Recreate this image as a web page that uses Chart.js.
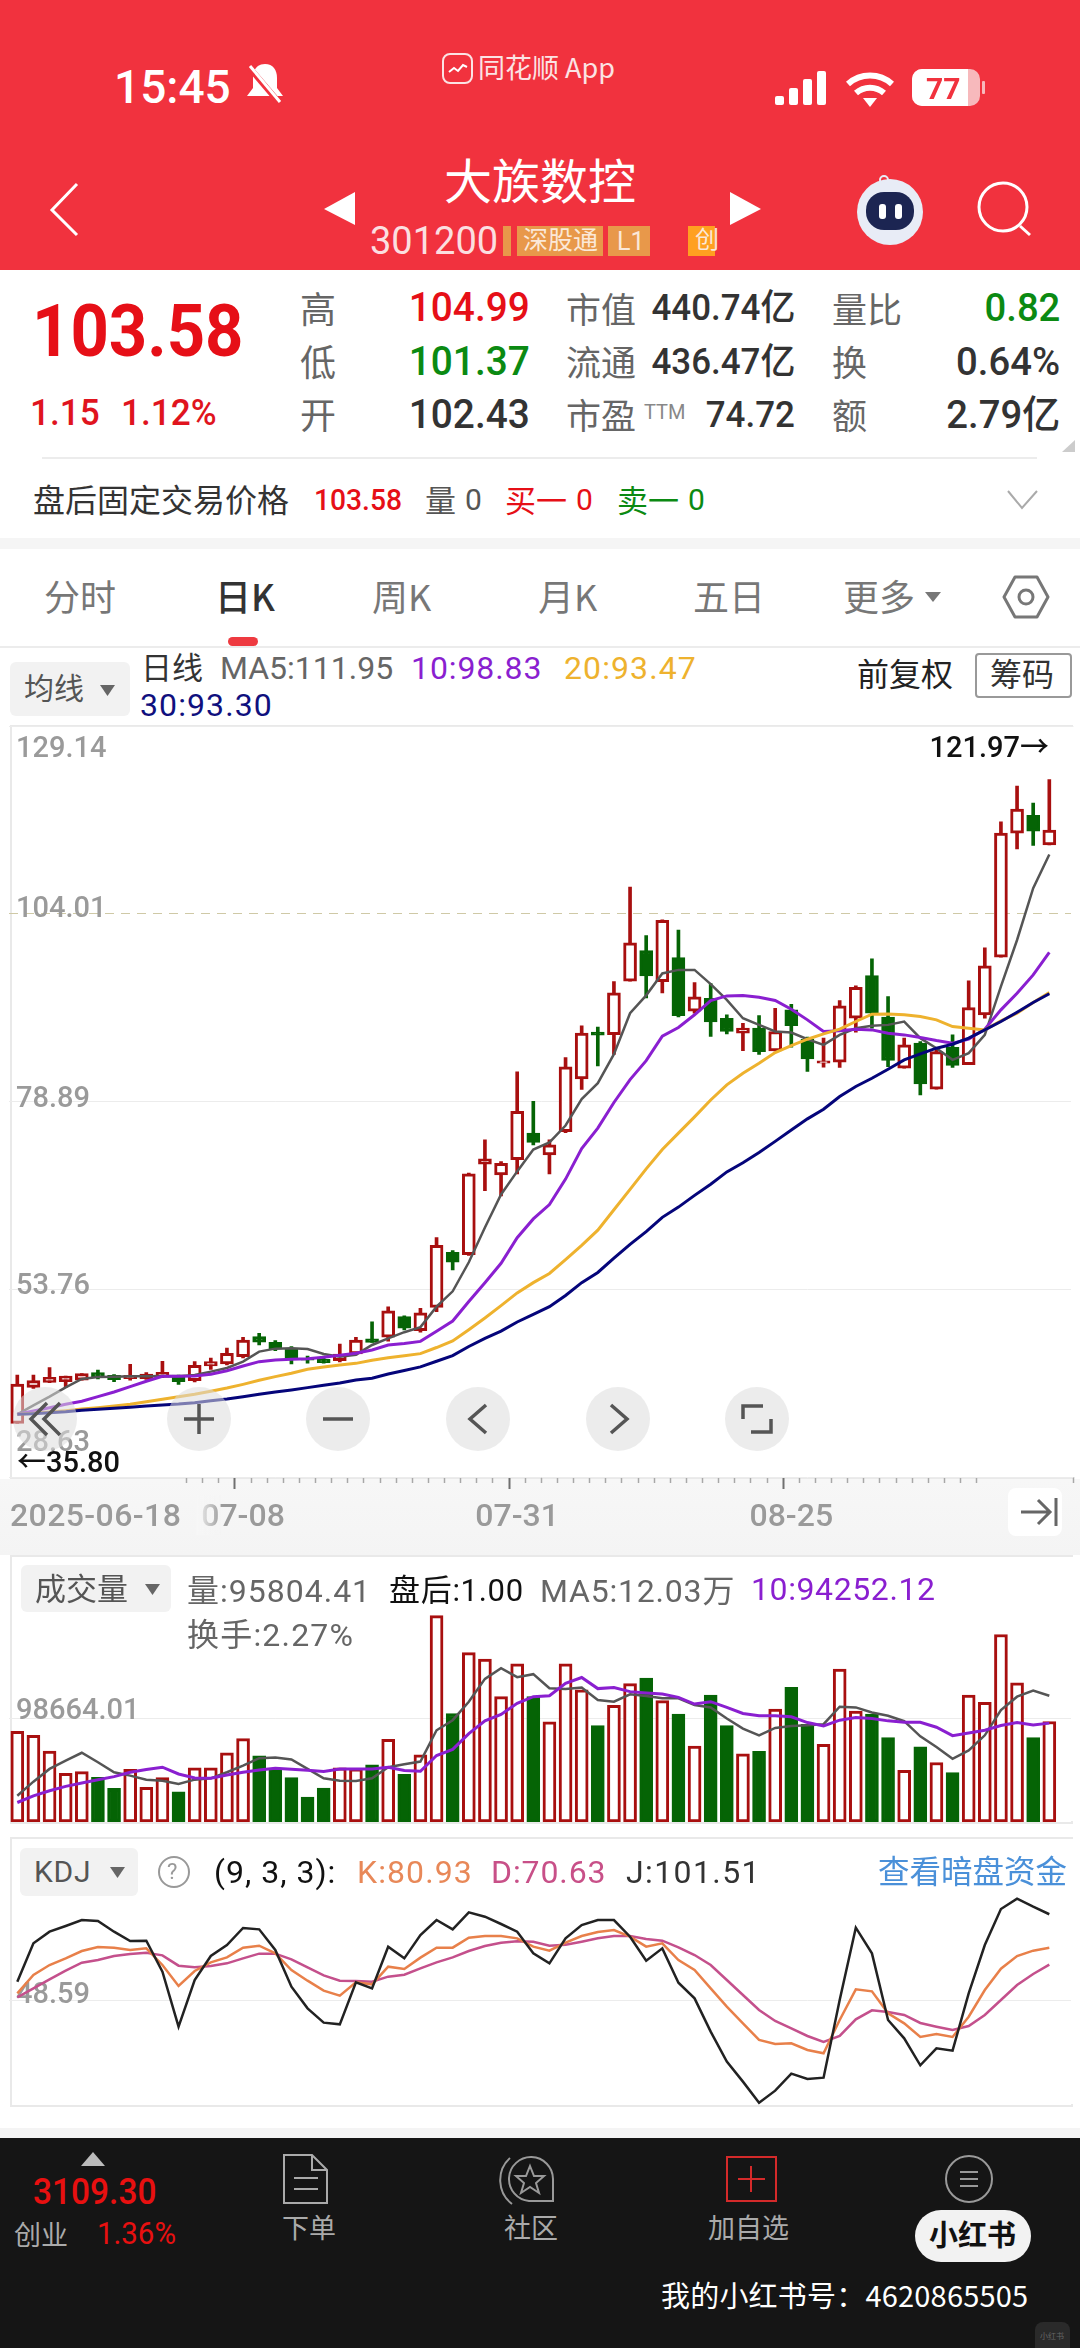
<!DOCTYPE html>
<html>
<head>
<meta charset="utf-8">
<title>大族数控 日K</title>
<script src="https://cdn.jsdelivr.net/npm/chart.js@4"></script>
<style>
html, body { margin: 0; padding: 0; background: #fff; }
#page { position: relative; width: 1080px; height: 2348px; overflow: hidden; background: #fff;
  font-family: Roboto, "Noto Sans CJK SC", sans-serif; }
.t { position: absolute; white-space: nowrap; line-height: 1; transform: translateY(-50%) scaleX(var(--sx, 1)); transform-origin: left center; }
.r { transform-origin: right center; }
.c { font-family: "Noto Sans CJK SC"; margin-top: -3px; }
.s { font-family: "Noto Sans CJK SC"; }
.b { position: absolute; }
canvas { position: absolute; left: 0; display: block; }
svg { position: absolute; left: 0; top: 0; pointer-events: none; }
.frame { position: absolute; left: 10px; width: 1059px; border: 2px solid #e9e9e9; box-sizing: content-box; }
.pick { position: absolute; background: #f2f2f2; border-radius: 6px; }
</style>
</head>
<body>
<div id="page">
  <!-- top bar -->
  <div class="b" style="left:0;top:0;width:1080px;height:270px;background:#f1323e"></div>
  <div class="t" style="left:114px;top:87px;font-size:46px;font-weight:500;color:#fff">15:45</div>
  <div class="t c" style="left:478px;top:69px;font-size:27px;color:#fbe3e4">同花顺 App</div>
  <div class="t c" style="left:444px;top:181px;font-size:48px;color:#fff">大族数控</div>
  <div class="t" style="left:370px;top:241px;font-size:38px;color:#fbdfe0">301200</div>
  <div class="b" style="left:503px;top:226px;width:8px;height:30px;background:#e8984a"></div>
  <div class="b" style="left:517px;top:226px;width:86px;height:30px;background:#e8984a"></div>
  <div class="t c" style="left:523px;top:241px;font-size:25px;color:#fbe8d8">深股通</div>
  <div class="b" style="left:608px;top:226px;width:42px;height:30px;background:#e8984a"></div>
  <div class="t" style="left:617px;top:241px;font-size:25px;color:#fbe8d8">L1</div>
  <div class="b" style="left:688px;top:226px;width:27px;height:30px;background:#ffa020"></div>
  <div class="t c" style="left:695px;top:241px;font-size:24px;color:#fbe8d8">创</div>

  <!-- quote block -->
  <div class="t" style="left:32px;top:332px;font-size:72px;font-weight:700;color:#e60f17;--sx:.93">103.58</div>
  <div class="t" style="left:30px;top:412px;font-size:37px;font-weight:500;color:#e0141e;--sx:.95">1.15</div>
  <div class="t" style="left:121px;top:412px;font-size:37px;font-weight:500;color:#e0141e;--sx:.95">1.12%</div>

  <div class="t c" style="left:300px;top:310px;font-size:36px;color:#666">高</div>
  <div class="t c" style="left:300px;top:363px;font-size:36px;color:#666">低</div>
  <div class="t c" style="left:300px;top:416px;font-size:36px;color:#666">开</div>
  <div class="t r" style="right:550px;top:308px;font-size:40px;font-weight:500;color:#e60f17;--sx:.97">104.99</div>
  <div class="t r" style="right:550px;top:362px;font-size:40px;font-weight:500;color:#0b8a12;--sx:.97">101.37</div>
  <div class="t r" style="right:550px;top:415px;font-size:40px;font-weight:500;color:#333;--sx:.97">102.43</div>

  <div class="t c" style="left:566px;top:310px;font-size:35px;color:#666">市值</div>
  <div class="t c" style="left:566px;top:363px;font-size:35px;color:#666">流通</div>
  <div class="t c" style="left:566px;top:416px;font-size:35px;color:#666">市盈</div>
  <div class="t" style="left:644px;top:412px;font-size:20px;color:#888">TTM</div>
  <div class="t r" style="right:285px;top:308px;font-size:36px;font-weight:500;color:#333;--sx:.97">440.74亿</div>
  <div class="t r" style="right:285px;top:362px;font-size:36px;font-weight:500;color:#333;--sx:.97">436.47亿</div>
  <div class="t r" style="right:285px;top:415px;font-size:36px;font-weight:500;color:#333;--sx:.97">74.72</div>

  <div class="t c" style="left:832px;top:310px;font-size:35px;color:#666">量比</div>
  <div class="t c" style="left:832px;top:363px;font-size:35px;color:#666">换</div>
  <div class="t c" style="left:832px;top:416px;font-size:35px;color:#666">额</div>
  <div class="t r" style="right:20px;top:308px;font-size:39px;font-weight:500;color:#0b8a12;--sx:.98">0.82</div>
  <div class="t r" style="right:20px;top:362px;font-size:39px;font-weight:500;color:#333;--sx:.98">0.64%</div>
  <div class="t r" style="right:20px;top:415px;font-size:39px;font-weight:500;color:#333;--sx:.98">2.79亿</div>
  <div class="b" style="left:42px;top:457px;width:995px;height:2px;background:#ececec"></div>

  <div class="t c" style="left:33px;top:501px;font-size:32px;color:#333">盘后固定交易价格</div>
  <div class="t" style="left:314px;top:500px;font-size:30px;font-weight:500;color:#e60f17;--sx:.94">103.58</div>
  <div class="t c" style="left:425px;top:501px;font-size:31px;color:#555">量</div>
  <div class="t" style="left:465px;top:500px;font-size:30px;color:#555">0</div>
  <div class="t c" style="left:505px;top:501px;font-size:31px;color:#e60f17">买一</div>
  <div class="t" style="left:576px;top:500px;font-size:30px;color:#e60f17">0</div>
  <div class="t c" style="left:617px;top:501px;font-size:31px;color:#0b8a12">卖一</div>
  <div class="t" style="left:688px;top:500px;font-size:30px;color:#0b8a12">0</div>
  <div class="b" style="left:0;top:538px;width:1080px;height:11px;background:#f5f5f5"></div>

  <!-- period tabs -->
  <div class="t c" style="left:44px;top:598px;font-size:36px;color:#777">分时</div>
  <div class="t c" style="left:215px;top:598px;font-size:36px;font-weight:500;color:#333">日K</div>
  <div class="t c" style="left:372px;top:598px;font-size:36px;color:#777">周K</div>
  <div class="t c" style="left:538px;top:598px;font-size:36px;color:#777">月K</div>
  <div class="t c" style="left:693px;top:598px;font-size:36px;color:#777">五日</div>
  <div class="t c" style="left:843px;top:598px;font-size:36px;color:#777">更多</div>
  <div class="b" style="left:228px;top:637px;width:30px;height:9px;background:#ee3a40;border-radius:5px"></div>
  <div class="b" style="left:0;top:646px;width:1080px;height:2px;background:#ececec"></div>

  <!-- MA legend -->
  <div class="pick" style="left:10px;top:662px;width:120px;height:54px"></div>
  <div class="t c" style="left:24px;top:689px;font-size:30px;color:#555">均线</div>
  <div class="t c" style="left:141px;top:668px;font-size:31px;color:#333">日线</div>
  <div class="t" style="left:220px;top:668px;font-size:32px;color:#666">MA5:111.95</div>
  <div class="t" style="left:411px;top:668px;font-size:32px;color:#8a1fd0;letter-spacing:.9px">10:98.83</div>
  <div class="t" style="left:564px;top:668px;font-size:32px;color:#eeb22e;letter-spacing:1.100px">20:93.47</div>
  <div class="t" style="left:140px;top:705px;font-size:32px;color:#10107e;letter-spacing:1.100px">30:93.30</div>
  <div class="t c" style="left:857px;top:675px;font-size:32px;color:#222">前复权</div>
  <div class="b" style="left:975px;top:653px;width:93px;height:41px;border:2px solid #999;border-radius:4px"></div>
  <div class="t c" style="left:990px;top:675px;font-size:32px;color:#333">筹码</div>

  <!-- panels behind the canvases -->
  <div class="frame" style="top:725px;height:751px"></div>
  <div class="b" style="left:0;top:1479px;width:1080px;height:76px;background:linear-gradient(#f7f7f7,#f4f4f4)"></div>
  <div class="frame" style="top:1555px;height:265px"></div>
  <div class="frame" style="top:1837px;height:266px"></div>

  <canvas id="priceChart" width="1080" height="814" style="top:726px"></canvas>
  <canvas id="volumeChart" width="1080" height="266" style="top:1556px"></canvas>
  <canvas id="kdjChart" width="1080" height="267" style="top:1838px"></canvas>

  <!-- the scales run a little past the frame, keep the margin clean -->
  <div class="b" style="left:1071px;top:727px;width:9px;height:750px;background:#fff"></div>
  <div class="b" style="left:1071px;top:1557px;width:9px;height:264px;background:#fff"></div>
  <div class="b" style="left:1071px;top:1839px;width:9px;height:265px;background:#fff"></div>

  <!-- chart notes -->
  <div class="t r" style="right:31px;top:747px;font-size:29px;font-weight:500;color:#111">121.97→</div>
  <div class="t" style="left:17px;top:1462px;font-size:29px;font-weight:500;color:#111">←35.80</div>
  <div class="b" style="left:196px;top:1495px;width:26px;height:40px;background:linear-gradient(90deg,#f6f6f6,rgba(246,246,246,0))"></div>
  <div class="t" style="left:10px;top:1515px;font-size:32px;font-weight:500;color:#9a9a9a;letter-spacing:.4px">2025-06-18</div>
  <div class="b" style="left:1008px;top:1488px;width:54px;height:48px;background:#fff;border-radius:8px"></div>

  <!-- volume header -->
  <div class="pick" style="left:21px;top:1565px;width:150px;height:47px"></div>
  <div class="t c" style="left:35px;top:1589px;font-size:31px;color:#555">成交量</div>
  <div class="t" style="left:187px;top:1589px;font-size:32px;color:#666;letter-spacing:1px"><span class="s">量</span>:95804.41</div>
  <div class="t" style="left:389px;top:1589px;font-size:31px;color:#111;letter-spacing:.7px"><span class="s">盘后</span>:1.00</div>
  <div class="t" style="left:540px;top:1589px;font-size:32px;color:#666;letter-spacing:.8px">MA5:12.03<span class="s">万</span></div>
  <div class="t" style="left:751px;top:1589px;font-size:32px;color:#8a1fd0;letter-spacing:.6px">10:94252.12</div>
  <div class="t" style="left:187px;top:1633px;font-size:32px;color:#666;letter-spacing:1.200px"><span class="s">换手</span>:2.27%</div>

  <!-- KDJ header -->
  <div class="pick" style="left:20px;top:1848px;width:118px;height:48px"></div>
  <div class="t" style="left:34px;top:1872px;font-size:30px;color:#555;letter-spacing:.8px">KDJ</div>
  <div class="t" style="left:167px;top:1872px;font-size:22px;color:#999">?</div>
  <div class="t" style="left:214px;top:1872px;font-size:32px;color:#111;letter-spacing:1px">(9, 3, 3):</div>
  <div class="t" style="left:357px;top:1872px;font-size:32px;color:#e88858;letter-spacing:1.100px">K:80.93</div>
  <div class="t" style="left:491px;top:1872px;font-size:32px;color:#c85088;letter-spacing:.9px">D:70.63</div>
  <div class="t" style="left:626px;top:1872px;font-size:32px;color:#333;letter-spacing:1.400px">J:101.51</div>
  <div class="t c" style="left:878px;top:1873px;font-size:31.500px;color:#4a90d9">查看暗盘资金</div>

  <!-- footer -->
  <div class="b" style="left:0;top:2128px;width:1080px;height:10px;background:#f4f4f4"></div>
  <div class="b" style="left:0;top:2138px;width:1080px;height:210px;background:#151515"></div>
  <div class="t" style="left:33px;top:2192px;font-size:36px;font-weight:500;color:#e81010;--sx:.93">3109.30</div>
  <div class="t c" style="left:14px;top:2236px;font-size:27px;color:#aaa">创业</div>
  <div class="t" style="left:97px;top:2233px;font-size:32px;color:#e81010;--sx:.92">1.36%</div>
  <div class="t c" style="left:282px;top:2229px;font-size:27px;color:#aaa">下单</div>
  <div class="t c" style="left:504px;top:2229px;font-size:27px;color:#aaa">社区</div>
  <div class="t c" style="left:708px;top:2229px;font-size:27px;color:#aaa">加自选</div>
  <div class="b" style="left:915px;top:2210px;width:116px;height:52px;background:#f2f2f2;border-radius:26px"></div>
  <div class="t c" style="left:929px;top:2236px;font-size:29px;font-weight:700;color:#111">小红书</div>
  <div class="t c" style="left:661px;top:2297px;font-size:29px;color:#fff;letter-spacing:.2px">我的小红书号：4620865505</div>
  <div class="b" style="left:1035px;top:2322px;width:35px;height:34px;background:#2a2a2a;border-radius:8px"></div>
  <div class="t c" style="left:1040px;top:2339px;font-size:8px;color:#666">小红书</div>

  <!-- icons and chart buttons -->
  <svg width="1080" height="2348" fill="none">
    <!-- status bar -->
    <path d="M265 64 c-8 0 -12 6 -12 14 v10 l-6 8 h36 l-6 -8 v-10 c0 -8 -4 -14 -12 -14z" fill="#fff"/>
    <path d="M248 66 L282 106" stroke="#f1323e" stroke-width="6"/><path d="M250 66 L280 102" stroke="#fff" stroke-width="3"/>
    <rect x="443" y="54" width="29" height="29" rx="7" fill="#f1323e" stroke="#fbe3e4" stroke-width="2"/>
    <path d="M449 72 l5 -4 4 3 5 -6 4 2" stroke="#fff" stroke-width="2"/>
    <rect x="775" y="96" width="9" height="9" rx="2" fill="#fff"/><rect x="789" y="88" width="9" height="17" rx="2" fill="#fff"/>
    <rect x="803" y="79" width="9" height="26" rx="2" fill="#fff"/><rect x="817" y="71" width="9" height="34" rx="2" fill="#fff"/>
    <path d="M848 84 a33 33 0 0 1 44 0 M856 93 a21 21 0 0 1 28 0" stroke="#fff" stroke-width="6"/><path d="M863 98 h14 l-7 9z" fill="#fff"/>
    <rect x="912" y="69" width="68" height="37" rx="10" fill="#f7b9bc"/><path d="M922 69 h46 v37 h-46 a10 10 0 0 1 -10 -10 v-17 a10 10 0 0 1 10 -10z" fill="#fff"/>
    <rect x="982" y="81" width="3" height="13" rx="1" fill="#f7b9bc"/>
    <text x="926" y="99" font-family="Roboto" font-weight="700" font-size="30" fill="#f1323e">77</text>
    <!-- header -->
    <path d="M77 184 L52 210 L77 235" stroke="#fff" stroke-width="3"/>
    <path d="M355 192 v33 l-31 -16z" fill="#fff"/><path d="M730 192 v33 l31 -16z" fill="#fff"/>
    <circle cx="890" cy="212" r="33" fill="#e8ecf6"/><rect x="866" y="192" width="48" height="38" rx="18" fill="#1c2552"/>
    <rect x="879" y="204" width="7" height="15" rx="3" fill="#fff"/><rect x="895" y="204" width="7" height="15" rx="3" fill="#fff"/>
    <circle cx="884" cy="180" r="4" stroke="#e8ecf6" stroke-width="2"/>
    <circle cx="1003" cy="207" r="24" stroke="#fff" stroke-width="3"/><path d="M1020 226 L1030 235" stroke="#fff" stroke-width="3"/>
    <path d="M1062 452 L1075 440 V452z" fill="#ccc"/>
    <path d="M1008 491 L1022 508 L1037 491" stroke="#aaa" stroke-width="2"/>
    <path d="M925 592 h16 l-8 10z" fill="#777"/>
    <path d="M1004 597 L1015 577 H1037 L1048 597 L1037 617 H1015z" stroke="#777" stroke-width="3" stroke-linejoin="round"/>
    <circle cx="1026" cy="597" r="7" stroke="#777" stroke-width="3"/>
    <path d="M100 685 h15 l-7.500 11z" fill="#666"/>
    <path d="M145 1584 h15 l-7.500 11z" fill="#666"/>
    <path d="M110 1867 h15 l-7.500 11z" fill="#666"/>
    <circle cx="174" cy="1872" r="15" stroke="#999" stroke-width="2"/>
    <!-- chart buttons -->
    <g fill="#dcdcdc" fill-opacity=".55">
      <circle cx="45" cy="1419" r="32"/><circle cx="199" cy="1419" r="32"/><circle cx="338" cy="1419" r="32"/>
      <circle cx="478" cy="1419" r="32"/><circle cx="618" cy="1419" r="32"/><circle cx="757" cy="1419" r="32"/>
    </g>
    <g stroke="#555" stroke-width="3.500">
      <path d="M47 1403 L31 1419 L47 1435 M60 1403 L44 1419 L60 1435"/>
      <path d="M184 1419 H214 M199 1404 V1434"/><path d="M323 1419 H353"/>
      <path d="M486 1405 L470 1419 L486 1433"/><path d="M611 1405 L627 1419 L611 1433"/>
      <path d="M743 1419 V1406 H763 M771 1419 V1432 H751"/>
    </g>
    <path d="M1021 1512 H1050 M1038 1500 L1050 1512 L1038 1524 M1056 1498 V1526" stroke="#666" stroke-width="3"/>
    <!-- footer -->
    <path d="M93 2152 L105 2166 H81z" fill="#bbb"/>
    <path d="M284 2155 h28 l15 15 v33 h-43z" stroke="#aaa" stroke-width="2"/>
    <path d="M294 2178 h24 M294 2189 h24 M312 2155 v15 h15" stroke="#aaa" stroke-width="2"/>
    <path d="M553 2201 h-24 a22 22 0 1 1 24 -22z M510 2158 a30 30 0 0 0 2 46" stroke="#999" stroke-width="2"/>
    <path d="M530 2166 l4 10 h10 l-8 7 3 10 -9 -6 -9 6 3 -10 -8 -7 h10z" stroke="#999" stroke-width="2"/>
    <rect x="727" y="2157" width="49" height="44" stroke="#d42a2a" stroke-width="2"/>
    <path d="M738 2179 h27 M751 2166 v26" stroke="#d42a2a" stroke-width="2"/>
    <circle cx="969" cy="2179" r="23" stroke="#999" stroke-width="2"/>
    <path d="M960 2172 h18 M960 2179 h18 M960 2186 h18" stroke="#999" stroke-width="2"/>
  </svg>
</div>

<script>
// one value per trading day
var dates = ["06-18","06-19","06-20","06-23","06-24","06-25","06-26","06-27","06-30","07-01","07-02","07-03","07-04","07-07","07-08",
  "07-09","07-10","07-11","07-14","07-15","07-16","07-17","07-18","07-21","07-22","07-23","07-24","07-25","07-28","07-29","07-30","07-31",
  "08-01","08-04","08-05","08-06","08-07","08-08","08-11","08-12","08-13","08-14","08-15","08-18","08-19","08-20","08-21","08-22","08-25",
  "08-26","08-27","08-28","08-29","09-01","09-02","09-03","09-04","09-05","09-08","09-09","09-10","09-11","09-12","09-15","09-16"];
var tickDates = ["07-08","07-31","08-25"];
var priceTicks = [28.63, 53.76, 78.89, 104.01, 129.14];
var volumeTicks = [98664.01];
var kdjTicks = [48.59];

var opens = [35.80,40.63,41.30,41.39,41.60,42.60,42.24,41.80,41.80,42.00,42.28,41.52,43.49,43.76,44.74,47.41,46.66,45.72,44.51,44.38,44.20,45.10,
  47.12,47.33,50.10,48.20,51.34,58.70,58.39,70.50,69.06,71.10,74.65,71.73,74.85,81.90,88.17,87.83,95.00,99.10,94.93,98.14,90.97,92.68,
  90.03,88.02,88.70,85.66,91.15,87.22,84.01,84.14,90.03,95.74,90.17,83.34,86.69,80.53,86.15,83.83,90.48,98.21,114.81,117.20,113.24];
var closes = [41.08,41.52,41.97,42.15,42.46,41.93,41.66,42.24,42.42,42.64,41.39,43.58,44.07,45.18,46.97,46.66,45.76,44.51,44.25,43.93,45.09,46.97,
  46.65,50.88,48.55,50.60,59.64,57.37,69.19,71.20,70.62,77.58,73.42,73.07,83.53,88.03,87.76,93.43,100.12,95.70,103.13,90.36,92.88,89.54,
  88.25,88.70,85.57,88.25,89.05,84.59,84.32,91.70,94.18,90.70,84.37,86.46,81.24,85.57,83.70,91.46,97.04,114.81,118.02,115.08,115.22];
var highs = [42.28,42.28,43.26,42.15,42.46,42.95,42.33,43.70,42.60,44.10,42.28,44.07,44.56,45.90,47.33,47.86,46.88,46.08,44.80,44.80,46.43,47.33,
  49.40,51.40,50.20,51.20,60.67,58.93,69.30,73.74,70.84,82.84,78.90,73.74,84.75,89.00,88.85,94.93,107.57,101.08,103.20,101.83,94.80,94.66,
  90.48,89.36,90.39,91.37,91.90,87.49,87.36,92.40,94.36,97.98,92.93,87.36,86.91,85.79,87.80,95.03,99.44,116.30,121.09,118.84,121.97];
var lows = [35.80,40.50,41.26,40.63,41.60,41.75,41.39,41.60,41.70,41.93,41.03,41.35,43.04,43.62,44.56,46.30,45.54,43.76,43.85,43.85,44.02,44.96,
  46.65,46.80,48.30,48.00,50.76,56.34,58.30,66.96,66.25,69.20,73.07,69.19,74.70,80.50,83.66,85.20,95.00,92.75,93.43,90.20,90.70,87.60,
  87.94,85.70,85.20,85.66,86.15,82.90,83.47,83.43,88.16,88.70,83.56,83.34,79.77,80.53,83.43,83.83,90.03,98.20,112.69,113.17,113.24];

var ma5 = [37.02,38.22,39.38,40.63,41.75,42.02,42.06,42.10,42.10,42.15,42.10,42.28,42.73,43.22,44.07,45.41,45.81,45.85,45.76,45.09,44.74,45.00,
  46.30,47.19,48.01,48.69,51.42,53.48,57.37,62.01,66.45,69.53,72.46,73.42,75.67,79.22,81.34,85.23,90.70,93.09,96.02,96.50,96.50,94.59,
  92.49,90.03,89.14,88.25,88.12,87.22,86.46,87.80,88.69,89.01,89.14,89.59,87.36,86.02,84.46,85.35,87.80,94.30,100.50,107.43,111.95];
var ma10 = [37.02,37.46,37.91,38.36,38.76,39.38,40.01,40.72,41.44,42.10,42.10,42.15,42.37,42.86,43.49,44.07,44.29,44.38,44.47,44.65,44.92,45.18,
  45.62,46.30,46.51,46.78,48.15,49.51,52.11,54.64,57.23,60.65,63.17,65.09,68.50,72.60,75.33,78.75,81.82,84.35,87.62,88.79,90.49,92.40,
  93.02,93.07,92.84,92.40,91.24,89.81,88.25,88.34,88.56,88.47,88.03,87.80,87.45,87.04,86.69,87.22,88.56,91.15,93.38,95.83,98.83];
var ma20 = [37.02,37.15,37.33,37.51,37.73,37.91,38.13,38.36,38.71,39.03,39.38,39.70,40.10,40.54,41.03,41.57,42.06,42.51,43.04,43.35,43.62,43.84,
  44.25,44.60,44.87,45.14,45.96,46.85,48.35,49.92,51.56,53.27,54.64,55.87,57.71,59.62,61.67,64.40,67.13,69.87,72.46,74.65,76.83,79.09,
  81.11,82.67,84.01,85.44,86.37,87.22,87.94,88.56,89.59,90.57,90.61,90.48,90.26,89.81,88.92,88.70,88.47,89.68,90.70,92.13,93.47];
var ma30 = [37.02,37.11,37.24,37.37,37.55,37.69,37.82,37.96,38.13,38.27,38.40,38.58,38.85,39.07,39.38,39.70,40.01,40.28,40.59,40.90,41.21,41.61,
  41.86,42.41,42.89,43.37,44.12,44.87,46.10,47.19,48.15,49.38,50.40,51.42,52.93,54.64,56.00,57.91,59.76,61.47,63.38,64.75,66.32,67.82,
  69.46,70.69,72.05,73.55,75.06,76.56,77.85,79.55,80.89,82.00,83.21,84.46,85.26,86.02,86.55,87.36,88.47,89.59,90.84,92.13,93.30];

var volumes = [86480,82640,67580,46440,48050,42600,32030,50290,32990,42280,28830,51570,51570,65980,79430,63100,50930,42280,23700,32350,51570,50610,
  54450,78790,45480,64060,196660,103460,161430,155350,119470,150860,119470,95450,150860,125880,91930,111140,131960,137090,115630,102820,72390,121070,
  91930,65020,67260,107620,128440,93210,73990,145740,105700,102820,80400,49330,71750,56690,47080,121070,114030,178730,132600,80400,95804.41];
var volMa5 = [24980,38440,50610,58610,65980,57010,47400,44200,40360,39400,36190,40360,41640,47400,53810,60860,61500,59580,50610,41640,39400,39080,
  41640,52210,55090,57650,87440,97050,114670,136450,146700,138050,140930,127480,126840,128120,116270,114670,121710,120110,117870,117870,111460,109220,
  98650,89040,82640,89680,91610,92250,93210,109860,109220,104420,101210,96090,81680,71430,60220,68220,82640,106660,119470,125240,120300];
var volMa10 = [18580,24980,29790,33950,37150,40360,43240,47400,49970,52210,45800,41960,41640,44840,47400,49650,51250,50290,49330,48050,50610,50610,
  50610,52210,49010,48370,63420,69180,84240,96410,102500,113070,119470,120430,132280,137730,127160,128120,124280,123000,122030,118830,112430,114670,
  109220,103460,101210,101210,100250,94810,91610,97050,99610,98650,96410,95130,95130,90320,82320,84880,87440,91930,94810,92570,94252.12];

var kValues = [53.08,64.30,70.43,74.51,79.00,81.45,81.04,79.61,80.63,70.43,57.57,66.75,72.06,75.12,81.04,82.26,77.57,67.37,60.83,54.71,51.65,59.81,
  58.59,69.41,67.98,74.92,81.04,81.04,87.16,88.18,88.18,86.75,81.65,79.20,84.10,88.18,90.63,91.86,87.77,81.65,83.69,73.49,67.37,56.14,
  44.92,34.71,24.51,22.06,22.47,18.39,16.35,36.75,55.53,54.30,40.83,34.71,26.35,28.18,26.35,38.79,55.12,68.18,75.94,79.20,80.93];
var dValues = [50.63,56.14,61.65,66.96,71.86,73.49,75.94,77.16,77.98,76.35,70.02,69.00,69.81,71.45,74.51,77.37,77.37,73.90,69.00,64.10,60.83,60.63,
  60.22,63.28,64.51,68.39,72.06,75.12,79.00,82.06,84.10,84.92,84.71,82.26,82.88,84.71,86.75,88.18,88.18,86.35,85.32,81.24,76.55,70.43,
  61.24,52.06,42.88,36.14,31.65,26.96,23.28,26.96,37.16,42.67,41.65,39.81,34.92,32.67,30.63,33.08,39.81,49.00,58.18,64.92,70.63];
var jValues = [60.22,83.69,90.83,94.30,97.98,97.37,90.83,85.12,85.32,66.35,32.67,61.24,75.94,82.67,93.08,92.26,79.61,57.16,43.90,35.12,34.10,59.81,
  56.14,81.65,74.51,88.79,97.98,92.26,102.67,100.02,95.53,90.83,77.57,71.45,86.75,94.92,97.98,97.98,87.77,73.08,80.63,59.61,50.02,29.61,
  11.24,-1.00,-13.86,-6.51,3.90,0.63,1.45,49.00,93.28,77.57,36.75,25.53,9.00,19.41,17.98,53.08,82.67,104.71,111.04,106.14,101.51];

var RED = "#a80f0f", GREEN = "#056405", GREY = "#555555", PURPLE = "#8a1fd0", ORANGE = "#eeb22e", NAVY = "#05057a";
var labels = dates.concat([""]); // the app leaves one empty slot on the right
var plotPadding = { left: 9.24, right: 6.5 };

function isUp(i) { return closes[i] >= opens[i]; }
function candleColor(ctx) { return isUp(ctx.dataIndex) ? RED : GREEN; }
function candleFill(ctx) { return isUp(ctx.dataIndex) ? "#ffffff" : GREEN; }

function lineSet(data, color, width) {
  return { type: "line", data: data, borderColor: color, borderWidth: width || 2.5, pointRadius: 0, tension: 0, order: 0, fill: false };
}

// value labels sit inside the plot, next to the grid line they belong to
var valueLabels = {
  id: "valueLabels",
  beforeDatasetsDraw: function (chart, args, opts) {
    var c = chart.ctx, s = chart.scales.y;
    c.save();
    c.font = "500 29px Roboto";
    c.fillStyle = "#9a9a9a";
    c.textAlign = "left";
    c.textBaseline = "middle";
    opts.values.forEach(function (v, i) {
      c.fillText(v.toFixed(2), 16, s.getPixelForValue(v) + opts.shifts[i]);
    });
    c.restore();
  }
};

function baseOptions(yMin, yMax, ticks, shifts) {
  return {
    responsive: false,
    animation: false,
    layout: { padding: plotPadding },
    plugins: { legend: { display: false }, tooltip: { enabled: false }, valueLabels: { values: ticks, shifts: shifts } },
    scales: {
      x: { offset: true, display: false, grid: { display: false } },
      y: {
        min: yMin, max: yMax,
        afterBuildTicks: function (s) { s.ticks = ticks.map(function (v) { return { value: v }; }); },
        afterFit: function (s) { s.width = 0; },
        ticks: { display: false },
        border: { display: false },
        grid: { color: "#ececec", lineWidth: 1, drawTicks: false }
      }
    }
  };
}

var priceOptions = baseOptions(28.63, 129.14, priceTicks, [-33, -2, -2, -4, 24]);
priceOptions.scales.y.grid.color = function (ctx) { return ctx.tick && ctx.tick.value === 104.01 ? "#cfc9a6" : "#ececec"; };
priceOptions.scales.y.border.dash = function (ctx) { return ctx.tick && ctx.tick.value === 104.01 ? [9, 7] : []; };
priceOptions.scales.x = {
  offset: true,
  afterFit: function (s) { s.height = 63; },
  border: { display: false },
  grid: {
    drawOnChartArea: false,
    tickLength: 12,
    tickColor: function (ctx) {
      if (ctx.index < 11 || ctx.index > 60) return "rgba(0,0,0,0)";
      return tickDates.indexOf(labels[ctx.index]) >= 0 ? "#707070" : "#a8a8a8";
    },
    tickWidth: function (ctx) { return tickDates.indexOf(labels[ctx.index]) >= 0 ? 2 : 1.5; },
    tickBorderDash: function (ctx) { return tickDates.indexOf(labels[ctx.index]) >= 0 ? [] : [6, 20]; }
  },
  ticks: {
    autoSkip: false, maxRotation: 0, padding: 10,
    color: "#9a9a9a",
    font: { family: "Roboto", size: 32, weight: "500" },
    callback: function (v, i) { return tickDates.indexOf(labels[i]) >= 0 ? labels[i] : ""; }
  }
};

new Chart(document.getElementById("priceChart"), {
  type: "bar",
  plugins: [valueLabels],
  data: {
    labels: labels,
    datasets: [
      lineSet(ma30, NAVY, 3), lineSet(ma20, ORANGE, 3), lineSet(ma10, PURPLE, 3), lineSet(ma5, GREY, 2.5),
      { data: opens.map(function (o, i) { return [o, closes[i]]; }), grouped: false, order: 1, barThickness: 13, borderWidth: 3,
        borderSkipped: false, borderColor: candleColor, backgroundColor: candleFill },
      { data: lows.map(function (l, i) { return [l, highs[i]]; }), grouped: false, order: 2, barThickness: 3, backgroundColor: candleColor }
    ]
  },
  options: priceOptions
});

new Chart(document.getElementById("volumeChart"), {
  type: "bar",
  plugins: [valueLabels],
  data: {
    labels: labels,
    datasets: [
      lineSet(volMa10, PURPLE, 3), lineSet(volMa5, GREY, 2.5),
      { data: volumes, order: 1, barThickness: 13, borderWidth: 3, borderSkipped: false, borderColor: candleColor, backgroundColor: candleFill }
    ]
  },
  options: baseOptions(0, 253570, volumeTicks, [-7])
});

new Chart(document.getElementById("kdjChart"), {
  type: "line",
  plugins: [valueLabels],
  data: {
    labels: labels,
    datasets: [ lineSet(jValues, "#222222"), lineSet(kValues, "#e8804a"), lineSet(dValues, "#c4508c") ]
  },
  options: baseOptions(-15.3, 148.2, kdjTicks, [-5])
});
</script>
</body>
</html>
